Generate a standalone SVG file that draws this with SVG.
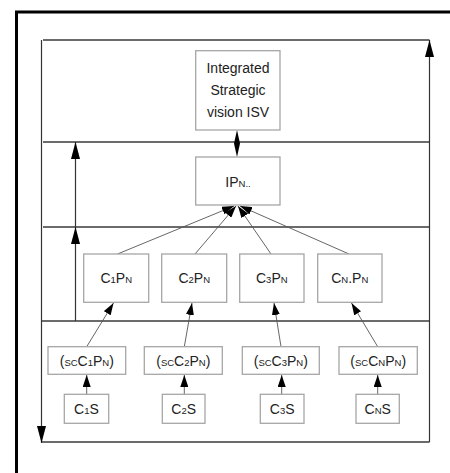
<svg xmlns="http://www.w3.org/2000/svg" width="450" height="473" viewBox="0 0 450 473">
<style>
.box{fill:#fff;stroke:#a6a6a6;stroke-width:1.3}
.t{font-family:"Liberation Sans",Arial,sans-serif;font-size:14px;fill:#222;text-anchor:middle}
.s{font-size:9.5px}
.div{stroke:#3a3a3a;stroke-width:1.3;fill:none}
.con{stroke:#555;stroke-width:0.9;fill:none}
.big{stroke:#333;stroke-width:1.2;fill:none}
</style>
<defs>
<marker id="ah" markerUnits="userSpaceOnUse" markerWidth="12" markerHeight="8" refX="12" refY="4" orient="auto"><path d="M0,0 L12,4 L0,8 z" fill="#000"/></marker>
<marker id="bh" markerUnits="userSpaceOnUse" markerWidth="17" markerHeight="9" refX="17" refY="4.5" orient="auto"><path d="M0,0 L17,4.5 L0,9 z" fill="#000"/></marker>
</defs>
<rect width="450" height="473" fill="#fff"/>
<!-- outer frame -->
<path d="M16.5,473 V12 H450" fill="none" stroke="#000" stroke-width="3"/>
<!-- inner frame and layers -->
<g id="frame">
<path class="div" d="M43,40 H429.5"/>
<path class="div" d="M41,442 H429.5"/>
<path class="div" d="M43,142 H429.5"/>
<path class="div" d="M43,227 H429.5"/>
<path class="div" d="M41,321 H429.5"/>
</g>
<g id="connectors">
<path class="big" d="M429.5,442 V40" marker-end="url(#bh)"/>
<path class="big" d="M41.5,40 V443" marker-end="url(#bh)"/>
<path class="big" d="M75.5,321 V227" marker-end="url(#bh)"/>
<path class="big" d="M75.5,227 V142" marker-end="url(#bh)"/>
<path d="M237,130 L240,143.5 L237,157 L234,143.5 z" fill="#000"/>
<path class="con" d="M117.5,254 L234,206" marker-end="url(#ah)"/>
<path class="con" d="M195,254 L236,206" marker-end="url(#ah)"/>
<path class="con" d="M271,254 L238,206" marker-end="url(#ah)"/>
<path class="con" d="M349,254 L240,206" marker-end="url(#ah)"/>
<path class="con" d="M86.7,346.7 L113.5,303" marker-end="url(#ah)"/>
<path class="con" d="M184.3,346.7 L192,303" marker-end="url(#ah)"/>
<path class="con" d="M281,346.7 L274,303" marker-end="url(#ah)"/>
<path class="con" d="M377.7,346.7 L351.5,303" marker-end="url(#ah)"/>
<path class="con" d="M86.7,394.3 V375" marker-end="url(#ah)"/>
<path class="con" d="M184.3,394.3 V375" marker-end="url(#ah)"/>
<path class="con" d="M281.7,394.3 V375" marker-end="url(#ah)"/>
<path class="con" d="M377.7,394.3 V375" marker-end="url(#ah)"/>
</g>
<g id="isv">
<rect class="box" x="195.7" y="50.7" width="84.3" height="79.3"/>
<text class="t" x="238" y="73">Integrated</text>
<text class="t" x="238" y="95">Strategic</text>
<text class="t" x="238" y="117">vision ISV</text>
</g>
<g id="ipn">
<rect class="box" x="195.7" y="157" width="84.3" height="48"/>
<text class="t" x="238" y="187">IP<tspan class="s">N..</tspan></text>
</g>
<g id="c1pn">
<rect class="box" x="83.7" y="254" width="65" height="48.3"/>
<text class="t" x="116.2" y="283">C<tspan class="s">1</tspan>P<tspan class="s">N</tspan></text>
</g>
<g id="c2pn">
<rect class="box" x="161.7" y="254" width="65" height="48.3"/>
<text class="t" x="194.2" y="283">C<tspan class="s">2</tspan>P<tspan class="s">N</tspan></text>
</g>
<g id="c3pn">
<rect class="box" x="239.7" y="254" width="64.3" height="48.3"/>
<text class="t" x="271.8" y="283">C<tspan class="s">3</tspan>P<tspan class="s">N</tspan></text>
</g>
<g id="cnpn">
<rect class="box" x="317.7" y="254" width="64.3" height="48.3"/>
<text class="t" x="349.8" y="283">C<tspan class="s">N</tspan>.P<tspan class="s">N</tspan></text>
</g>
<g id="sc1">
<rect class="box" x="48" y="346.7" width="77.7" height="27.6"/>
<text class="t" x="86.8" y="365.5">(<tspan class="s">SC</tspan>C<tspan class="s">1</tspan>P<tspan class="s">N</tspan>)</text>
</g>
<g id="sc2">
<rect class="box" x="144.3" y="346.7" width="78" height="27.6"/>
<text class="t" x="183.3" y="365.5">(<tspan class="s">SC</tspan>C<tspan class="s">2</tspan>P<tspan class="s">N</tspan>)</text>
</g>
<g id="sc3">
<rect class="box" x="242.3" y="346.7" width="77" height="27.6"/>
<text class="t" x="280.8" y="365.5">(<tspan class="s">SC</tspan>C<tspan class="s">3</tspan>P<tspan class="s">N</tspan>)</text>
</g>
<g id="scn">
<rect class="box" x="339" y="346.7" width="78.3" height="27.6"/>
<text class="t" x="378.2" y="365.5">(<tspan class="s">SC</tspan>C<tspan class="s">N</tspan>P<tspan class="s">N</tspan>)</text>
</g>
<g id="c1s">
<rect class="box" x="64.3" y="394.3" width="44.4" height="29"/>
<text class="t" x="86.5" y="414">C<tspan class="s">1</tspan>S</text>
</g>
<g id="c2s">
<rect class="box" x="162.3" y="394.3" width="42.7" height="29"/>
<text class="t" x="183.7" y="414">C<tspan class="s">2</tspan>S</text>
</g>
<g id="c3s">
<rect class="box" x="260.3" y="394.3" width="43.7" height="29"/>
<text class="t" x="282.2" y="414">C<tspan class="s">3</tspan>S</text>
</g>
<g id="cns">
<rect class="box" x="356" y="394.3" width="43.3" height="29"/>
<text class="t" x="377.7" y="414">C<tspan class="s">N</tspan>S</text>
</g>
</svg>
